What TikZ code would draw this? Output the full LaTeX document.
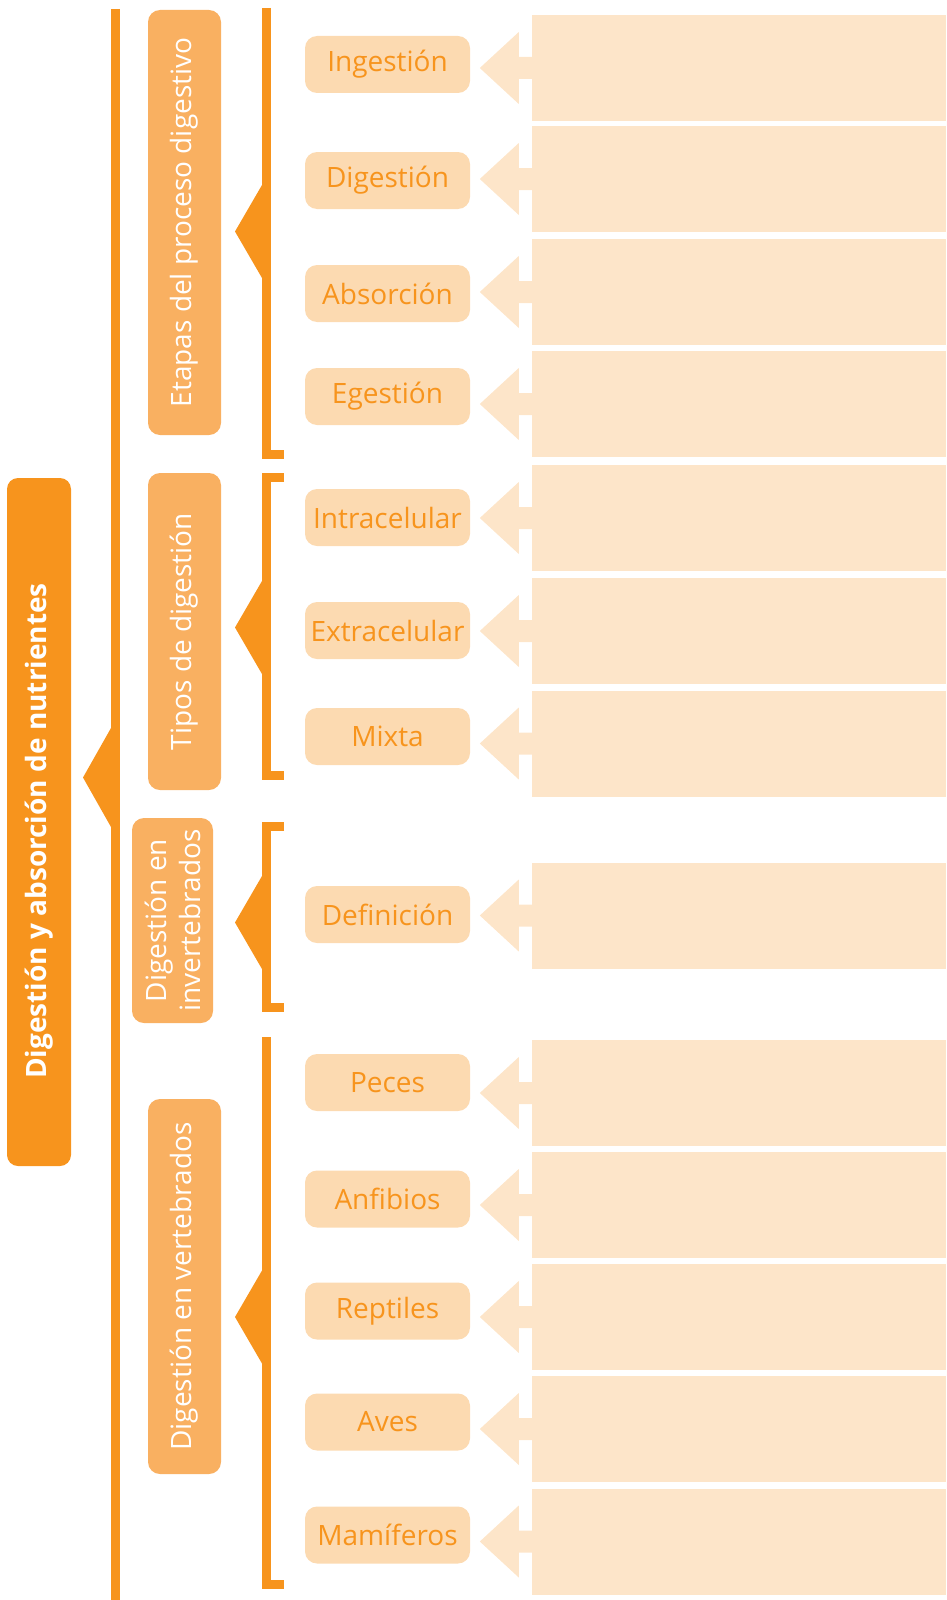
\documentclass[tikz,border=0pt]{standalone}
\usepackage{fontspec}
\setmainfont{Open Sans}
\definecolor{naranja}{HTML}{F7941D}
\definecolor{catfill}{HTML}{F9B061}
\definecolor{pillfill}{HTML}{FCDAB1}
\definecolor{pale}{HTML}{FDE5C9}
\begin{document}
\begin{tikzpicture}[x=1pt, y=-1pt,
  titulo/.style={fill=naranja, rounded corners=11pt, text=white, rotate=90, inner sep=0pt,
    minimum width=688pt, minimum height=64pt, font=\bfseries\fontsize{28}{34}\selectfont},
  cat/.style={fill=catfill, rounded corners=12pt, text=white, rotate=90, inner sep=0pt,
    minimum height=73pt, align=center, font=\fontsize{28}{34}\selectfont},
  etiqueta/.style={fill=pillfill, rounded corners=12pt, text=naranja, inner sep=0pt,
    minimum width=165pt, minimum height=57pt, font=\fontsize{28}{34}\selectfont},
  caja/.style={fill=pale, inner sep=0pt, minimum width=414pt, minimum height=106pt},
  corchete/.style={draw=naranja, line width=9pt}]
\useasboundingbox (0,0) rectangle (946,1600);
% main line and title
\draw[corchete] (115.5,9) -- (115.5,1600);
\fill[naranja] (116,728) -- (111,728) -- (83,777.5) -- (111,827) -- (116,827) -- cycle;
\node[titulo] (tema) at (39,822) {Digestión y absorción de nutrientes\hspace*{18pt}};
% categories
\node[cat, minimum width=425pt] (etapas) at (184.5,222.5) {Etapas del proceso digestivo};
\node[cat, minimum width=317pt] (tipos) at (184.5,631.5) {Tipos de digestión};
\node[cat, minimum width=205pt, minimum height=81pt] (inver) at (172.5,920.5) {Digestión en\\invertebrados};
\node[cat, minimum width=375pt] (verte) at (184.5,1286.5) {Digestión en vertebrados};
% brackets
\draw[corchete] (266.5,8) -- (266.5,454) -- (284,454);
\draw[corchete] (284,477.5) -- (266.5,477.5) -- (266.5,775.5) -- (284,775.5);
\draw[corchete] (284,826.5) -- (266.5,826.5) -- (266.5,1007.5) -- (284,1007.5);
\draw[corchete] (266.5,1037) -- (266.5,1584.5) -- (284,1584.5);
\foreach \ty in {231.5,627.5,922.5,1317}
  \fill[naranja] (266,\ty-46.5) -- (262,\ty-46.5) -- (235,\ty) -- (262,\ty+46.5) -- (266,\ty+46.5) -- cycle;
% items with their answer boxes
\foreach \lbl/\py/\by [count=\i] in {Ingestión/64.5/68, Digestión/180.5/179, Absorción/293.5/292,
    Egestión/396.5/404, Intracelular/517.5/518, Extracelular/630.5/631, Mixta/736.5/743.5,
    Definición/914.5/915.5, Peces/1082.5/1093, Anfibios/1199/1205, Reptiles/1311/1317,
    Aves/1422/1429, Mamíferos/1535/1541.5}{
  \node[etiqueta] (p\i) at (387.5,\py) {\lbl};
  \node[caja] (b\i) at (739,\by) {};
  \fill[pale] (b\i.west) ++(0,-11) -- ++(-13,0) -- ++(0,-25) -- ++(-39,36)
    -- ++(39,36) -- ++(0,-25) -- ++(13,0) -- cycle;
}
\end{tikzpicture}
\end{document}
